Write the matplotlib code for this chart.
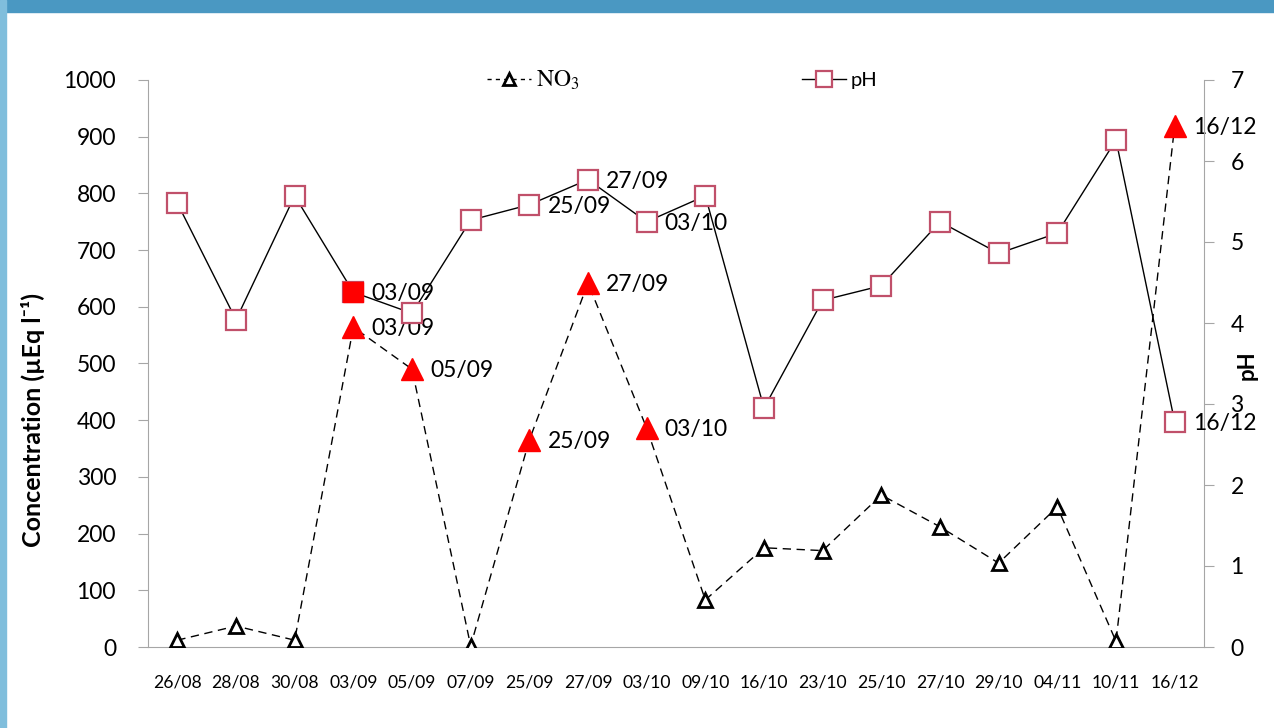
import matplotlib
matplotlib.use("Agg")
import matplotlib.pyplot as plt
from matplotlib.patches import Rectangle
from matplotlib.lines import Line2D

dates = ["26/08", "28/08", "30/08", "03/09", "05/09", "07/09", "25/09", "27/09", "03/10",
         "09/10", "16/10", "23/10", "25/10", "27/10", "29/10", "04/11", "10/11", "16/12"]
no3 = [12, 37, 12, 564, 490, 2, 365, 642, 386, 83, 175, 170, 268, 212, 148, 247, 10, 919]
ph = [5.48, 4.04, 5.57, 4.38, 4.12, 5.27, 5.46, 5.77, 5.25, 5.57, 2.95, 4.28, 4.46, 5.25,
      4.86, 5.11, 6.26, 2.78]

# points picked out in red / labelled
no3_marked = ["03/09", "05/09", "25/09", "27/09", "03/10", "16/12"]
ph_filled = ["03/09"]
ph_labelled = ["03/09", "25/09", "27/09", "03/10", "16/12"]

plt.rcParams["font.family"] = ["Lato", "DejaVu Sans"]
plt.rcParams["mathtext.fontset"] = "stix"

grey = "#A6A6A6"
pink = "#C0506A"
red = "#FF0000"

fig = plt.figure(figsize=(12.74, 7.28), dpi=100)
fig.patches.append(Rectangle((0, 716 / 728), 1, 12 / 728, transform=fig.transFigure,
                             color="#4A98C2", zorder=-10))
fig.patches.append(Rectangle((0, 0), 6 / 1274, 1, transform=fig.transFigure,
                             color="#80BEDC", zorder=-10))

ax = fig.add_axes([148 / 1274, 1 - 647 / 728, 1056 / 1274, 567 / 728])
ax2 = ax.twinx()

x = list(range(len(dates)))
ax.plot(x, no3, color="black", lw=1, dashes=(6, 4), marker="^", ms=10,
        mfc="white", mec="black", mew=2, zorder=3)
idx = [dates.index(d) for d in no3_marked]
ax.plot(idx, [no3[i] for i in idx], ls="none", marker="^", ms=16, color=red, zorder=4)
for i in idx:
    ax.annotate(dates[i], (i, no3[i]), xytext=(13, -1), textcoords="offset points",
                va="center", ha="left", fontsize=16.5)

ax2.plot(x, ph, color="black", lw=1, marker="s", ms=14, mfc="white", mec=pink, mew=1.6)
idx = [dates.index(d) for d in ph_filled]
ax2.plot(idx, [ph[i] for i in idx], ls="none", marker="s", ms=15, color=red)
for d in ph_labelled:
    i = dates.index(d)
    ax2.annotate(d, (i, ph[i]), xytext=(13, -1), textcoords="offset points",
                 va="center", ha="left", fontsize=16.5)

ax.set_xlim(-0.5, len(dates) - 0.5)
ax.set_ylim(0, 1000)
ax2.set_ylim(0, 7)
ax.set_yticks(range(0, 1001, 100))
ax2.set_yticks(range(0, 8))
ax.set_xticks(x)
ax.set_xticklabels(dates)

for a in (ax, ax2):
    for s in a.spines.values():
        s.set_color(grey)
    a.spines["top"].set_visible(False)
ax.spines["right"].set_visible(False)
ax2.spines["left"].set_visible(False)
ax2.spines["bottom"].set_visible(False)

ax.tick_params(axis="y", colors=grey, labelcolor="black", labelsize=16.5, length=7, pad=16)
ax2.tick_params(axis="y", colors=grey, labelcolor="black", labelsize=16.5, length=7, pad=12)
ax.tick_params(axis="x", length=0, labelsize=12.6, pad=20)

ax.set_ylabel("Concentration (\u00b5Eq l\u207b\u00b9)", fontsize=18, fontweight="bold")
ax.yaxis.set_label_coords(-0.098, 0.40)
ax2.set_ylabel("pH", fontsize=16, fontweight="bold", rotation=90, va="center")
ax2.yaxis.set_label_coords(1.041, 0.497)

handles = [
    Line2D([], [], color="black", lw=1, dashes=(3, 3), marker="^", ms=8, mfc="white",
           mec="black", mew=2),
    Line2D([], [], color="black", lw=1, marker="s", ms=11, mfc="white", mec=pink, mew=1.6),
]
leg = ax.legend(handles, [r"$\mathrm{NO_3}$", "pH"], ncol=2, loc="center",
                bbox_to_anchor=(0.506, 1.0), frameon=False, fontsize=14.5,
                handlelength=2.2, columnspacing=11, handletextpad=0.25)
leg.get_texts()[0].set_fontsize(17)

fig.savefig("out.png", dpi=100, facecolor="white")
